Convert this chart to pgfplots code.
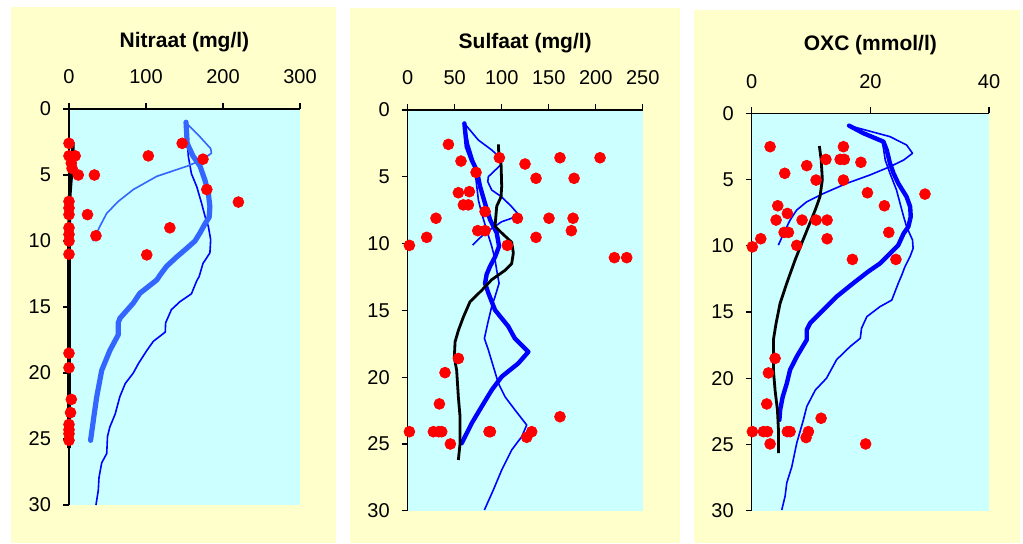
\documentclass[border=0pt]{standalone}
\usepackage{pgfplots}
\pgfplotsset{compat=1.18}
\usepackage{fontspec}
\setmainfont{Liberation Sans}
\definecolor{bgY}{HTML}{FFFFCC}
\definecolor{bgC}{HTML}{CCFFFF}
\definecolor{lblue}{HTML}{3366FF}
\definecolor{dblue}{HTML}{0000FF}
\pgfplotsset{panel/.style={
  scale only axis, anchor=center,
  y dir=reverse, ymin=0, ymax=30, ytick={0,5,...,30},
  axis background/.style={fill=bgC},
  axis line style={draw=none},
  tick align=outside, major tick length=3pt,
  tick style={black, line width=0.6pt},
  xtick pos=upper, ytick pos=left,
  xticklabel pos=upper, yticklabel pos=left,
  ticklabel style={font=\fontsize{10}{12}\selectfont},
  xticklabel style={yshift=6pt},
  yticklabel style={xshift=-2.5pt},
  /pgf/number format/assume math mode=true,
  clip=false,
  dots/.style={only marks, mark=*, mark size=2.7pt, color=red, draw=red, fill=red},
  thin/.style={line width=0.8pt, line join=round, mark=none},
  thick/.style={line width=2.2pt, line join=round, line cap=round, mark=none},
  blk/.style={line width=1.4pt, black, line join=round, mark=none},
}}
\begin{document}
\begin{tikzpicture}
\useasboundingbox (0pt,0pt) rectangle (511.5pt,271.5pt);
\fill[bgY] (5.5pt,0pt) rectangle (168pt,268pt);
\fill[bgY] (175pt,0pt) rectangle (340pt,267.5pt);
\fill[bgY] (347pt,0pt) rectangle (510pt,266.5pt);

% ---------- Panel 1: Nitraat
\begin{axis}[panel, at={(92.25pt,118pt)}, width=115.5pt, height=198pt,
  xmin=0, xmax=300, xtick={0,100,200,300}]
\draw[black, line width=0.6pt] (axis cs:0,0) -- (axis cs:300,0);
\draw[black, line width=0.6pt] (axis cs:0,0) -- (axis cs:0,30);
\addplot[thin, dblue] coordinates {(152,1.04)(155,3.6)(159,4.9)(166,5.9)(172,7.1)(177,8.2)(181,8.9)(184,9.9)(183,10.9)(174,11.7)(169,12.7)(166,13.0)(159,14.0)(144,14.6)(133,15.2)(125.5,16.2)(125,16.9)(109.5,17.6)(101,18.3)(90,19.3)(83.5,20.0)(73,20.8)(66,21.8)(60,23.1)(53,24.1)(50,24.8)(49,26.1)(42.5,26.8)(39,27.9)(38,28.9)(35,30)};
\addplot[thin, lblue] coordinates {(152,1.04)(170,2.1)(184,3.0)(185,3.35)(174,3.8)(155,4.3)(114,5.1)(83.5,6.1)(64,7.0)(49,7.9)(40,8.9)(36,9.4)(31,10.0)};
\addplot[thick, lblue, line width=2.6pt] coordinates {(152,1.0)(153.5,2.6)(161,3.56)(170,4.3)(176.6,5.4)(181,6.4)(183,7.4)(182,8.2)(176.6,8.7)(170,9.4)(163.6,10.0)(153,10.55)(140,11.2)(127,11.9)(118,12.6)(114,12.95)(92,13.96)(83.5,14.7)(66,15.86)(64,16.2)(64,17.1)(53,18.3)(42.5,19.8)(36,21.8)(31.6,23.6)(28,25.1)};
\addplot[blk, line width=1.8pt] coordinates {(5,2.5)(5,3.5)(4,4.5)(3,5)(2,5.7)(1,6.5)(0.5,8)(0,10)(0,25.7)};
\addplot[dots] coordinates {(0,2.6)(147,2.6)(0,3.55)(8,3.55)(103,3.55)(174,3.8)(3,4.1)(4,4.5)(12,5.0)(33,5.0)(179,6.1)(220,7.05)(0,7.0)(0,7.5)(0,8.0)(24,8.0)(131,9.0)(0,9.0)(0,9.5)(35,9.6)(0,10.0)(101,11.05)(0,11.0)(0,18.5)(0,19.6)(3,22.0)(2,23.0)(0,23.9)(0,24.3)(0,24.6)(0,25.1)};
\end{axis}

% ---------- Panel 2: Sulfaat
\begin{axis}[panel, at={(262.6pt,116.3pt)}, width=117.5pt, height=200.35pt,
  xmin=0, xmax=250, xtick={0,50,...,250}]
\draw[black, line width=0.6pt] (axis cs:0,0) -- (axis cs:250,0);
\draw[black, line width=0.6pt] (axis cs:0,0) -- (axis cs:0,30);
\addplot[thin, dblue] coordinates {(60.3,1.0)(64.5,2.5)(69.9,3.74)(72.7,5.24)(75.2,6.74)(78.7,7.73)(84,8.98)(89.4,10.2)(92.9,11.2)(94.7,12.0)(97.2,12.97)(92.9,13.97)(89.4,14.7)(85.1,15.97)(81.6,17.1)(85.8,17.96)(91.1,19.2)(96.5,20.46)(103.5,21.46)(114.2,22.46)(126.6,23.58)(121.3,24.45)(110.6,25.45)(100,26.95)(91.1,28.44)(81.6,29.94)};
\addplot[thin, dblue] coordinates {(60.3,1.0)(75.2,2.25)(89.4,2.99)(97.2,3.5)(99,4.1)(85.8,4.99)(85.2,5.36)(89.4,5.99)(100,6.5)(110.6,7.24)(116.7,7.73)(110.6,8.1)(100,8.36)(82.3,9.2)(69.1,10.1)};
\addplot[thick, dblue] coordinates {(60.3,1.0)(62.8,2.74)(68.1,3.74)(73.4,4.5)(76.9,5.7)(82.3,7.0)(87.6,8.2)(94.7,9.2)(97.2,10.2)(92.9,11.0)(87.6,11.7)(84,12.3)(82.3,12.97)(85.8,13.7)(92.9,14.97)(107,16.2)(114,17.1)(128.4,18.1)(117.7,18.96)(100,19.96)(89.4,20.96)(78.7,22.2)(68.1,23.45)(57.4,24.95)};
\addplot[blk] coordinates {(96.5,2.57)(97,3.5)(99.3,4.0)(100,5.7)(99.3,6.5)(94.7,7.2)(92.9,8.7)(100,9.2)(110.6,9.9)(112.4,10.7)(110.6,11.5)(103.5,12.0)(89.4,12.7)(78.7,13.5)(66.3,14.35)(59.2,15.5)(53.9,16.5)(50.4,17.35)(49.6,18.5)(52.1,19.5)(53.9,21.5)(55.7,22.96)(55.7,24.95)(53.9,26.2)};
\addplot[dots] coordinates {(43.3,2.57)(97.5,3.57)(162,3.57)(204.6,3.57)(56.7,3.82)(124.8,4.04)(72.7,4.67)(136.5,5.11)(177,5.11)(53.9,6.19)(65.6,6.11)(59.2,7.1)(64.5,7.1)(82.3,7.6)(30.1,8.1)(116.7,8.1)(150.3,8.1)(175.9,8.1)(74.5,9.03)(82.3,9.03)(174.1,9.03)(20.2,9.53)(136.5,9.53)(1.8,10.13)(106,10.13)(219.9,11.05)(233,11.05)(53.9,18.6)(39.7,19.66)(33.7,22.0)(162,22.96)(1.8,24.08)(27.3,24.08)(33,24.08)(36.2,24.08)(86.5,24.08)(88,24.08)(131.9,24.08)(126.6,24.5)(45.4,25.0)};
\end{axis}

% ---------- Panel 3: OXC
\begin{axis}[panel, at={(435.2pt,115.5pt)}, width=118.65pt, height=198.7pt,
  xmin=0, xmax=40, xtick={0,20,40}]
\draw[black, line width=0.6pt] (axis cs:0,0) -- (axis cs:40,0);
\draw[black, line width=0.6pt] (axis cs:0,0) -- (axis cs:0,30);
\addplot[thin, dblue] coordinates {(16.4,0.93)(18.8,1.5)(22.0,2.2)(22.2,2.64)(22.5,3.53)(23.3,4.53)(24.4,5.79)(25,6.8)(25.6,7.8)(26.1,8.56)(27.1,9.57)(27.2,10.2)(26.7,10.8)(25.8,11.6)(25.3,12.2)(24.7,12.83)(23.6,14.1)(21.6,14.6)(19.4,15.35)(18.5,16.23)(18.3,16.98)(16.6,17.6)(14.3,18.6)(12.6,20.0)(10.7,20.9)(9.27,22.14)(8.7,23.15)(7.58,24.9)(6.74,26.7)(5.9,27.9)(5.62,28.9)(5.06,29.94)};
\addplot[thin, dblue] coordinates {(16.4,0.93)(23.3,1.76)(26.1,2.39)(27.1,3.02)(25.6,3.53)(23.3,4.03)(19.9,4.66)(16.0,5.29)(12.1,6.05)(9.27,6.68)(7.58,7.3)(6.46,8.06)(5.62,8.82)(4.49,9.95)};
\addplot[thick, dblue] coordinates {(16.4,0.93)(18.8,1.5)(22.2,2.14)(22.75,2.77)(23.3,3.78)(23.9,4.53)(24.7,5.29)(26.1,6.3)(26.7,7.05)(26.8,7.8)(26.4,8.56)(25.6,9.07)(24.7,9.95)(23.3,10.58)(21.6,11.34)(19.6,11.96)(17.1,12.83)(14.3,13.84)(12.6,14.6)(9.83,15.85)(9.27,16.35)(9.27,17.1)(7.58,18.37)(6.46,19.37)(5.9,20.4)(5.22,21.4)(4.78,22.4)(4.66,23.15)};
\addplot[blk] coordinates {(11.4,2.47)(11.7,3.5)(11.9,5.0)(11.5,6.3)(10.7,7.3)(9.55,8.56)(8.43,9.8)(7.3,11.08)(6.4,12.2)(5.9,12.83)(4.78,14.34)(4.1,15.85)(3.65,17.1)(3.65,19.4)(3.93,20.9)(4.33,22.4)(4.5,23.9)(4.5,25.65)};
\addplot[dots] coordinates {(3.09,2.52)(15.45,2.52)(12.5,3.48)(14.9,3.48)(15.6,3.48)(18.4,3.7)(9.27,3.95)(5.56,4.53)(10.84,5.04)(15.45,5.04)(19.5,6.0)(29.2,6.1)(4.38,6.98)(22.36,6.98)(6.01,7.56)(4.1,8.06)(8.48,8.06)(10.84,8.06)(12.7,8.06)(5.45,8.99)(6.18,8.99)(23.1,8.99)(1.52,9.47)(12.7,9.47)(0.1,10.08)(7.58,9.97)(16.97,11.03)(24.3,11.03)(3.93,18.5)(2.81,19.6)(2.53,21.94)(11.69,23.02)(0.1,24.03)(1.97,24.03)(2.64,24.03)(6.0,24.03)(6.46,24.03)(9.55,24.03)(9.16,24.48)(3.09,24.96)(19.2,24.96)};
\end{axis}

\node[font=\bfseries\fontsize{10.5}{12}\selectfont] at (92.25pt,250.5pt) {Nitraat (mg/l)};
\node[font=\bfseries\fontsize{10.5}{12}\selectfont] at (262.6pt,250pt) {Sulfaat (mg/l)};
\node[font=\bfseries\fontsize{10.5}{12}\selectfont] at (435.2pt,249pt) {OXC (mmol/l)};
\end{tikzpicture}
\end{document}
